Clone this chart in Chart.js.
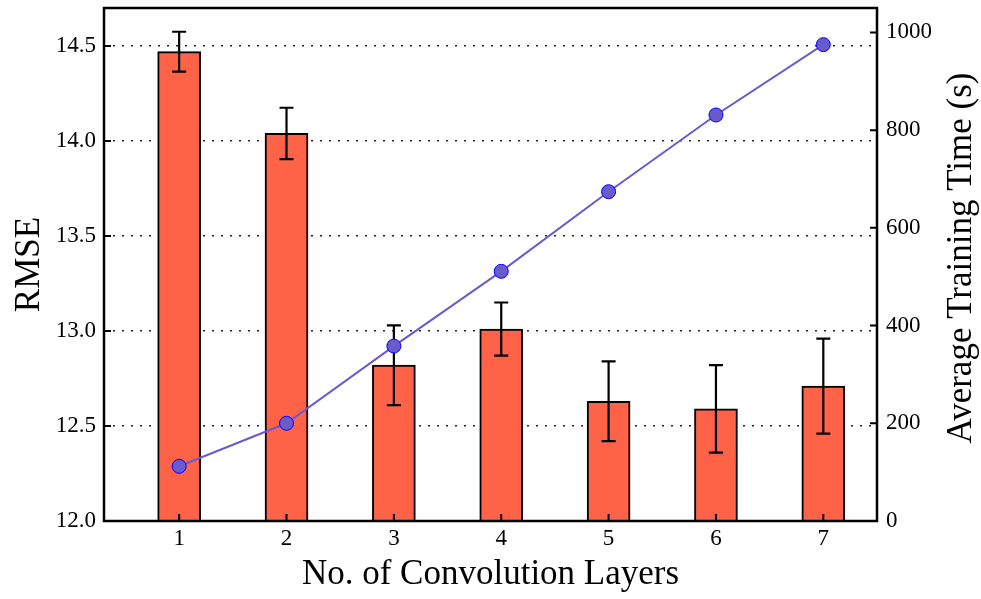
<!DOCTYPE html>
<html>
<head>
<meta charset="utf-8">
<script src="https://cdn.jsdelivr.net/npm/chart.js@4"></script>
<style>
  body { margin: 0; background: #fff; }
  #wrap { width: 981px; height: 599px; }
</style>
</head>
<body>
<div id="wrap"><canvas id="canvas" width="981" height="599"></canvas></div>
<script>
// data
var layers = [1, 2, 3, 4, 5, 6, 7];
var rmse = [14.47, 14.04, 12.82, 13.01, 12.63, 12.59, 12.71];
var rmseErr = [0.105, 0.135, 0.21, 0.14, 0.21, 0.23, 0.25];
var trainTime = [112, 200, 358, 511, 674, 831, 975];
var leftTicks = [12.0, 12.5, 13.0, 13.5, 14.0, 14.5];
var rightTicks = [0, 200, 400, 600, 800, 1000];
var rightTitle = "Average Training Time (s)";

var serif = "'Liberation Serif', 'DejaVu Serif', serif";

// error bars drawn after the bar dataset
const errorBars = {
    id: "errorBars",
    afterDatasetDraw(chart, args) {
        if (args.index !== 0) return;
        const ctx = chart.ctx;
        const xs = chart.scales.x, ys = chart.scales.y;
        ctx.save();
        ctx.strokeStyle = "#000";
        ctx.lineWidth = 2.2;
        for (let i = 0; i < layers.length; i++) {
            let x = xs.getPixelForValue(layers[i]);
            let top = ys.getPixelForValue(rmse[i] + rmseErr[i]);
            let bot = ys.getPixelForValue(rmse[i] - rmseErr[i]);
            ctx.beginPath();
            ctx.moveTo(x, top); ctx.lineTo(x, bot);
            ctx.moveTo(x - 7, top); ctx.lineTo(x + 7, top);
            ctx.moveTo(x - 7, bot); ctx.lineTo(x + 7, bot);
            ctx.stroke();
        }
        ctx.restore();
    }
};

// frame, inward tick marks and the right title (reads bottom to top)
const frame = {
    id: "frame",
    afterDraw(chart) {
        const ctx = chart.ctx;
        const a = chart.chartArea;
        const xs = chart.scales.x, ys = chart.scales.y, y2 = chart.scales.y2;
        ctx.save();
        ctx.strokeStyle = "#000";
        ctx.lineWidth = 2;
        ctx.beginPath();
        leftTicks.forEach(v => {
            let y = ys.getPixelForValue(v);
            ctx.moveTo(a.left, y); ctx.lineTo(a.left + 7, y);
        });
        rightTicks.forEach(v => {
            let y = y2.getPixelForValue(v);
            ctx.moveTo(a.right, y); ctx.lineTo(a.right - 7, y);
        });
        layers.forEach(v => {
            let x = xs.getPixelForValue(v);
            ctx.moveTo(x, a.bottom); ctx.lineTo(x, a.bottom - 7);
        });
        ctx.stroke();
        ctx.lineWidth = 2.5;
        ctx.strokeRect(a.left, a.top, a.right - a.left, a.bottom - a.top);

        ctx.translate(971, 258);
        ctx.rotate(-Math.PI / 2);
        ctx.fillStyle = "#000";
        ctx.font = "35px " + serif;
        ctx.textAlign = "center";
        ctx.textBaseline = "alphabetic";
        ctx.fillText(rightTitle, 0, 0);
        ctx.restore();
    }
};

function noPad(s) {
    s.paddingTop = 0; s.paddingBottom = 0;
    s.paddingLeft = 0; s.paddingRight = 0;
}

const ctx = document.getElementById("canvas").getContext("2d");
new Chart(ctx, {
    data: {
        datasets: [{
            type: "bar",
            label: "RMSE",
            data: layers.map((l, i) => ({ x: l, y: rmse[i] })),
            backgroundColor: "#FF6347",
            borderColor: "#000",
            borderWidth: 2,
            borderSkipped: false,
            barThickness: 43,
            yAxisID: "y",
            order: 1
        }, {
            type: "line",
            label: "Average Training Time",
            data: layers.map((l, i) => ({ x: l, y: trainTime[i] })),
            borderColor: "#6A5ACD",
            borderWidth: 2,
            pointRadius: 7,
            pointBackgroundColor: "#6A5ACD",
            pointBorderColor: "#0000FF",
            pointBorderWidth: 1,
            tension: 0,
            yAxisID: "y2",
            order: 0
        }]
    },
    options: {
        responsive: false,
        animation: false,
        layout: { padding: { top: 5, left: 0, right: 0, bottom: 0 } },
        plugins: { legend: { display: false }, tooltip: { enabled: false } },
        scales: {
            x: {
                type: "linear",
                position: "bottom",
                offset: false,
                min: 0.3,
                max: 7.5,
                afterBuildTicks: s => { s.ticks = layers.map(v => ({ value: v })); },
                afterFit: s => { s.height = 78; noPad(s); },
                grid: { display: false, drawTicks: false },
                border: { display: false },
                ticks: { color: "#000", padding: 4, font: { family: serif, size: 23 }, callback: v => String(v) },
                title: { display: true, text: "No. of Convolution Layers", color: "#000",
                    font: { family: serif, size: 35 }, padding: { top: 0, bottom: 3 } }
            },
            y: {
                type: "linear",
                position: "left",
                min: 12.0,
                max: 14.7,
                afterBuildTicks: s => { s.ticks = leftTicks.map(v => ({ value: v })); },
                afterFit: s => { s.width = 104; noPad(s); },
                grid: { color: "#222", lineWidth: 1.4, borderDash: [2, 7], drawTicks: false },
                border: { display: false, dash: [2, 7] },
                ticks: { color: "#000", padding: 8, font: { family: serif, size: 23 }, callback: v => v.toFixed(1) },
                title: { display: true, text: "RMSE", color: "#000",
                    font: { family: serif, size: 35 }, padding: { top: 9, bottom: 0 } }
            },
            y2: {
                type: "linear",
                position: "right",
                min: 0,
                max: 1050,
                afterBuildTicks: s => { s.ticks = rightTicks.map(v => ({ value: v })); },
                afterFit: s => { s.width = 104; noPad(s); },
                grid: { display: false, drawTicks: false },
                border: { display: false },
                ticks: { color: "#000", padding: 9, font: { family: serif, size: 23 }, callback: v => String(v) },
                title: { display: false }
            }
        }
    },
    plugins: [errorBars, frame]
});
</script>
</body>
</html>
